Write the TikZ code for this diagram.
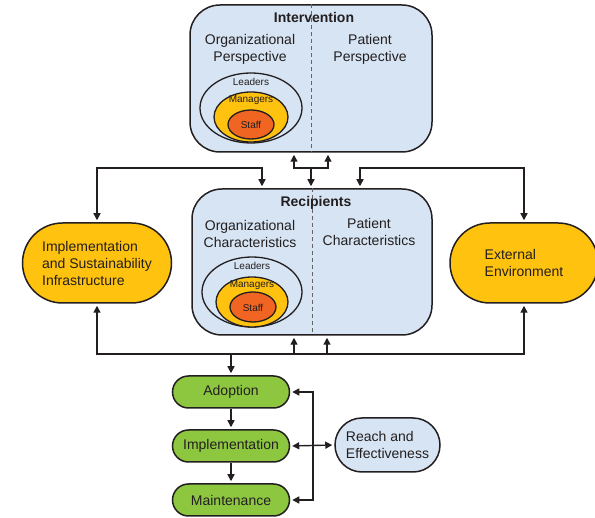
\documentclass[tikz,border=0pt]{standalone}
\usepackage{fontspec}
\setmainfont{Liberation Sans}
\usetikzlibrary{arrows.meta,shapes.geometric,shapes.misc}
\definecolor{lblue}{RGB}{214,228,243}
\definecolor{myyellow}{RGB}{255,194,14}
\definecolor{myorange}{RGB}{241,101,34}
\definecolor{mygreen}{RGB}{141,198,63}
\definecolor{lc}{RGB}{35,31,32}
\definecolor{dashc}{RGB}{100,100,100}
\tikzset{
  panel/.style={draw=lc, line width=1.5pt, fill=lblue, rounded corners=30pt, inner sep=0pt},
  pill/.style={rounded rectangle, draw=lc, line width=1.5pt, inner sep=0pt, text=lc,
    font=\fontsize{14}{17}\selectfont, align=left},
  ring/.style={ellipse, draw=lc, line width=1.3pt, inner sep=0pt},
  big/.style={text=lc, font=\fontsize{14}{17}\selectfont, align=center, inner sep=0pt},
  bigb/.style={text=lc, font=\fontsize{14}{17}\selectfont\bfseries, inner sep=0pt},
  small/.style={text=lc, font=\fontsize{10}{12}\selectfont, inner sep=0pt},
  tip/.style={draw=lc, line width=1.4pt, -{Triangle[length=7pt,width=7pt]}, shorten >=2pt},
  dtip/.style={draw=lc, line width=1.4pt, {Triangle[length=7pt,width=7pt]}-{Triangle[length=7pt,width=7pt]}, shorten >=2pt, shorten <=2pt},
  divider/.style={draw=dashc, line width=0.8pt, dash pattern=on 4pt off 3pt}
}
\begin{document}
\begin{tikzpicture}[x=1pt,y=-1pt]
\useasboundingbox (0,0) rectangle (595,518);

% Intervention panel
\node[panel, minimum width=242pt, minimum height=147pt] (interv) at (311,78.5) {};
\draw[divider] (interv.north) -- (interv.south);
\node[bigb] (intT) at (314,18) {Intervention};
\node[big] (intO) at (250,49) {Organizational\\Perspective};
\node[big] (intP) at (370,49) {Patient\\Perspective};
\node[ring, fill=lblue, minimum width=102pt, minimum height=70pt] (iLead) at (251,108) {};
\node[ring, fill=myyellow, minimum width=74pt, minimum height=50pt] (iMan) at (251,117) {};
\node[ring, fill=myorange, minimum width=46pt, minimum height=29pt] (iStaff) at (251,124.5) {};
\node[small] (iLeadT) at (251,82) {Leaders};
\node[small] (iManT) at (251,100) {Managers};
\node[small] (iStaffT) at (251,125) {Staff};

% Recipients panel
\node[panel, minimum width=240pt, minimum height=146pt] (recip) at (312,262) {};
\draw[divider] (recip.north) -- (recip.south);
\node[bigb] (recT) at (316,203) {Recipients};
\node[big] (recO) at (250,233.5) {Organizational\\Characteristics};
\node[big] (recP) at (369,231.5) {Patient\\Characteristics};
\node[ring, fill=lblue, minimum width=100pt, minimum height=70pt] (rLead) at (252,292) {};
\node[ring, fill=myyellow, minimum width=72pt, minimum height=50pt] (rMan) at (252,302) {};
\node[ring, fill=myorange, minimum width=46pt, minimum height=30pt] (rStaff) at (253,307) {};
\node[small] (rLeadT) at (252,266) {Leaders};
\node[small] (rManT) at (252,285) {Managers};
\node[small] (rStaffT) at (253,308) {Staff};

% Side nodes
\node[pill, fill=myyellow, minimum width=149pt, minimum height=80pt] (infra) at (97,263)
  {Implementation\\and Sustainability\\Infrastructure};
\node[pill, fill=myyellow, minimum width=148pt, minimum height=80pt] (env) at (524,263)
  {External\\Environment};

% RE-AIM nodes
\node[pill, fill=mygreen, minimum width=117pt, minimum height=32pt, align=center] (adopt) at (231,392) {Adoption};
\node[pill, fill=mygreen, minimum width=117pt, minimum height=32pt, align=center] (impl) at (231,446) {Implementation};
\node[pill, fill=mygreen, minimum width=117pt, minimum height=32pt, align=center] (maint) at (231,500) {Maintenance};
\node[pill, fill=lblue, minimum width=105pt, minimum height=54pt] (reach) at (387.5,445) {Reach and\\Effectiveness};

% Top connectors
\coordinate (iu1) at (294,168);
\coordinate (iu2) at (328,168);
\coordinate (ic) at (311,168);
\coordinate (tl) at (262,168);
\coordinate (tr) at (360,168);
\draw[dtip] (iu1 |- interv.south) -- (iu1) -- (iu2) -- (iu2 |- interv.south);
\draw[tip] (ic) -- (ic |- recip.north);
\draw[dtip] (infra.north) |- (tl) -- (tl |- recip.north);
\draw[dtip] (env.north) |- (tr) -- (tr |- recip.north);

% Bottom connectors
\coordinate (bot) at (300,354);
\coordinate (ru1) at (294,354);
\coordinate (ru2) at (327,354);
\coordinate (bd) at (231,354);
\draw[dtip] (infra.south) |- (bot) -| (env.south);
\draw[tip] (ru1) -- (ru1 |- recip.south);
\draw[tip] (ru2) -- (ru2 |- recip.south);
\draw[tip] (bd) -- (adopt.north);

% RE-AIM connectors
\draw[tip] (adopt.south) -- (impl.north);
\draw[tip] (impl.south) -- (maint.north);
\coordinate (br) at (313,446);
\draw[dtip] (adopt.east) -| (br) |- (maint.east);
\draw[dtip] (impl.east) -- (reach.west);
\end{tikzpicture}
\end{document}
